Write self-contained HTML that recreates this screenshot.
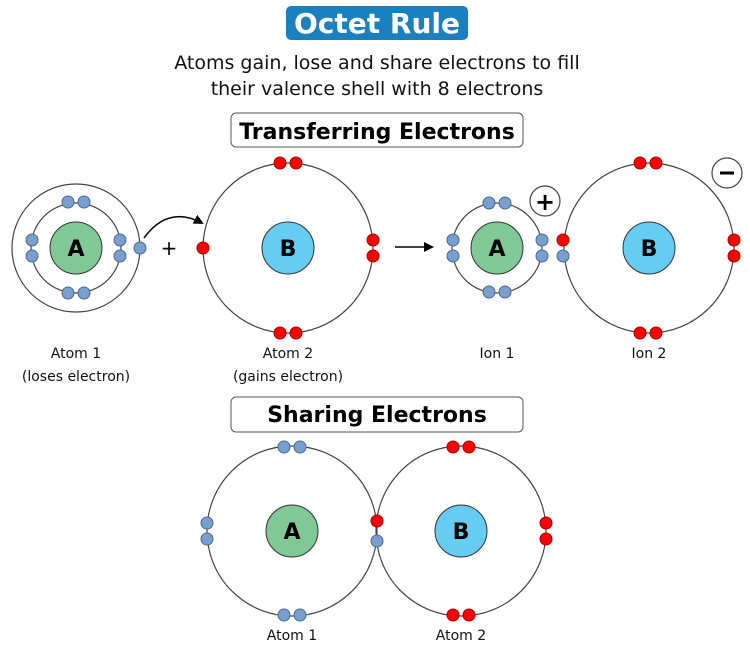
<!DOCTYPE html>
<html><head><meta charset="utf-8"><style>
html,body{margin:0;padding:0;background:#fff;width:750px;height:645px;overflow:hidden}
svg text{font-family:"DejaVu Sans","Liberation Sans",sans-serif}
</style></head><body>
<svg width="750" height="645" viewBox="0 0 750 645" xmlns="http://www.w3.org/2000/svg">
<defs>
<marker id="ah" markerWidth="10" markerHeight="10" refX="8" refY="5" orient="auto" markerUnits="userSpaceOnUse"><path d="M0,0 L10,5 L0,10 z" fill="#000"/></marker>
<g id="eb"><circle r="6" fill="#789fcf" stroke="#4a6a90" stroke-width="1"/></g>
<g id="er"><circle r="6" fill="#f00" stroke="#a00" stroke-width="1"/></g>
</defs>
<rect x="286" y="6" width="182" height="34" rx="5" fill="#1a80bf"/>
<text x="377" y="33" text-anchor="middle" font-size="28" font-weight="bold" fill="#fff">Octet Rule</text>
<text x="377" y="69" text-anchor="middle" font-size="19" fill="#111">Atoms gain, lose and share electrons to fill</text>
<text x="377" y="95" text-anchor="middle" font-size="19" fill="#111">their valence shell with 8 electrons</text>
<rect x="231" y="113" width="292" height="34" rx="5" fill="#fff" stroke="#555" stroke-width="1"/>
<text x="377" y="139" text-anchor="middle" font-size="22" font-weight="bold" fill="#000">Transferring Electrons</text>
<g fill="none" stroke="#444" stroke-width="1.2">
<circle cx="76" cy="248" r="64"/><circle cx="76" cy="248" r="45"/>
<circle cx="288" cy="248" r="85"/>
<circle cx="497" cy="248" r="45"/>
<circle cx="649" cy="248" r="85"/>
<circle cx="292" cy="531" r="85"/><circle cx="461" cy="531" r="85"/>
</g>
<g stroke="#333" stroke-width="1">
<circle cx="76" cy="248" r="26" fill="#80c896"/>
<circle cx="288" cy="248" r="26" fill="#66ccf2"/>
<circle cx="497" cy="248" r="26" fill="#80c896"/>
<circle cx="649" cy="248" r="26" fill="#66ccf2"/>
<circle cx="292" cy="531" r="26" fill="#80c896"/>
<circle cx="461" cy="531" r="26" fill="#66ccf2"/>
</g>
<g font-size="22" font-weight="bold" text-anchor="middle" fill="#000">
<text x="76" y="256">A</text><text x="288" y="256">B</text>
<text x="497" y="256">A</text><text x="649" y="256">B</text>
<text x="292" y="539">A</text><text x="461" y="539">B</text>
</g>
<use href="#eb" x="68" y="202"/><use href="#eb" x="84" y="202"/>
<use href="#eb" x="32" y="240"/><use href="#eb" x="32" y="256"/>
<use href="#eb" x="120" y="240"/><use href="#eb" x="120" y="256"/>
<use href="#eb" x="68" y="293"/><use href="#eb" x="84" y="293"/>
<use href="#eb" x="140" y="248"/>
<path d="M144,238 Q168,205 202,223" fill="none" stroke="#000" stroke-width="1.5" marker-end="url(#ah)"/>
<text x="169" y="255" text-anchor="middle" font-size="20" fill="#000">+</text>
<use href="#er" x="280" y="163"/><use href="#er" x="296" y="163"/>
<use href="#er" x="203" y="248"/>
<use href="#er" x="373" y="240"/><use href="#er" x="373" y="256"/>
<use href="#er" x="280" y="333"/><use href="#er" x="296" y="333"/>
<line x1="395" y1="247" x2="432" y2="247" stroke="#000" stroke-width="1.5" marker-end="url(#ah)"/>
<use href="#eb" x="489" y="203"/><use href="#eb" x="505" y="203"/>
<use href="#eb" x="453" y="240"/><use href="#eb" x="453" y="256"/>
<use href="#eb" x="542" y="240"/><use href="#eb" x="542" y="256"/>
<use href="#eb" x="489" y="292"/><use href="#eb" x="505" y="292"/>
<circle cx="545" cy="201" r="15" fill="#fff" stroke="#444" stroke-width="1.2"/>
<text x="545" y="210" text-anchor="middle" font-size="24" font-weight="bold" fill="#000">+</text>
<use href="#er" x="640" y="163"/><use href="#er" x="656" y="163"/>
<use href="#er" x="563" y="240"/><use href="#eb" x="563" y="256"/>
<use href="#er" x="734" y="240"/><use href="#er" x="734" y="256"/>
<use href="#er" x="640" y="333"/><use href="#er" x="656" y="333"/>
<circle cx="727" cy="173" r="15" fill="#fff" stroke="#444" stroke-width="1.2"/>
<line x1="720" y1="173" x2="734" y2="173" stroke="#000" stroke-width="3"/>
<g font-size="14" text-anchor="middle" fill="#111">
<text x="76" y="358">Atom 1</text><text x="76" y="381">(loses electron)</text>
<text x="288" y="358">Atom 2</text><text x="288" y="381">(gains electron)</text>
<text x="497" y="358">Ion 1</text><text x="649" y="358">Ion 2</text>
</g>
<rect x="231" y="397" width="292" height="35" rx="5" fill="#fff" stroke="#555" stroke-width="1"/>
<text x="377" y="422" text-anchor="middle" font-size="22" font-weight="bold" fill="#000">Sharing Electrons</text>
<use href="#eb" x="284" y="447"/><use href="#eb" x="300" y="447"/>
<use href="#eb" x="207" y="523"/><use href="#eb" x="207" y="539"/>
<use href="#eb" x="284" y="615"/><use href="#eb" x="300" y="615"/>
<use href="#er" x="377" y="521"/><use href="#eb" x="377" y="541"/>
<use href="#er" x="453" y="447"/><use href="#er" x="469" y="447"/>
<use href="#er" x="546" y="523"/><use href="#er" x="546" y="539"/>
<use href="#er" x="453" y="615"/><use href="#er" x="469" y="615"/>
<g font-size="14" text-anchor="middle" fill="#111">
<text x="292" y="640">Atom 1</text><text x="461" y="640">Atom 2</text>
</g>
</svg>
</body></html>
